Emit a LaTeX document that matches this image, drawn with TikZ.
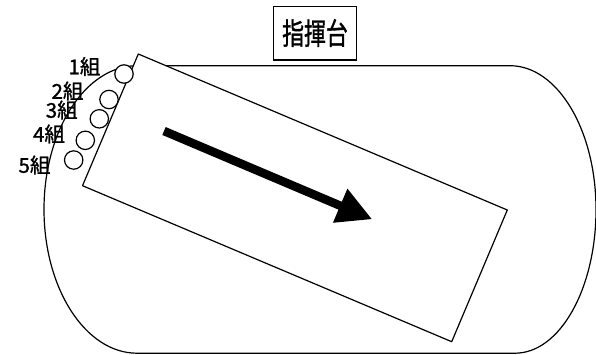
\documentclass[tikz,border=0pt]{standalone}
\usepackage{fontspec}
\newfontfamily\cjk[FakeBold=1.2]{Noto Sans CJK JP}
\usetikzlibrary{arrows.meta}
\begin{document}
\begin{tikzpicture}[x=1pt,y=-1pt,line width=1.2pt,
  grp/.style={circle,draw,fill=white,minimum size=18.4pt,inner sep=0pt},
  lbl/.style={inner sep=0pt,font=\cjk\fontsize{20.5}{20.5}\selectfont},
  field/.style={draw,line join=round}]
\useasboundingbox (0,0) rectangle (596,354);
% track
\draw[field] (137,65.7) -- (510,65.7)
  arc[start angle=90,end angle=0,x radius=86pt,y radius=143.75pt]
  arc[start angle=0,end angle=-90,x radius=81pt,y radius=143.75pt]
  -- (137,353.2)
  arc[start angle=270,end angle=90,x radius=93pt,y radius=143.75pt] -- cycle;
% tilted rectangle
\coordinate (r1) at (138.3,54);
\coordinate (r2) at (507.3,210);
\coordinate (r3) at (451.7,341.7);
\coordinate (r4) at (82.5,185.7);
\draw[field,fill=white] (r1) -- (r2) -- (r3) -- (r4) -- cycle;
% groups
\node[grp] (g1) at (124,74) {};
\node[grp] (g2) at (109,99.5) {};
\node[grp] (g3) at (99.3,118.8) {};
\node[grp] (g4) at (85.3,140.3) {};
\node[grp] (g5) at (73.7,160) {};
\node[lbl] (l1) at (84.5,66.5) {1組};
\node[lbl] (l2) at (67.5,91) {2組};
\node[lbl] (l3) at (61.7,110) {3組};
\node[lbl] (l4) at (49,134) {4組};
\node[lbl] (l5) at (34.5,165) {5組};
% arrow
\coordinate (a0) at (164,131);
\coordinate (a1) at (372.3,219.3);
\draw[line width=8.6pt,-{Triangle[length=34.9pt,width=34.4pt]}] (a0) -- (a1);
% podium
\node[draw,inner sep=0pt,minimum width=83.4pt,minimum height=53.3pt] (podium) at (315,33.3)
  {\raisebox{3pt}{\scalebox{0.73}[1]{\cjk\fontsize{30}{30}\selectfont 指揮台}}};
\end{tikzpicture}
\end{document}
